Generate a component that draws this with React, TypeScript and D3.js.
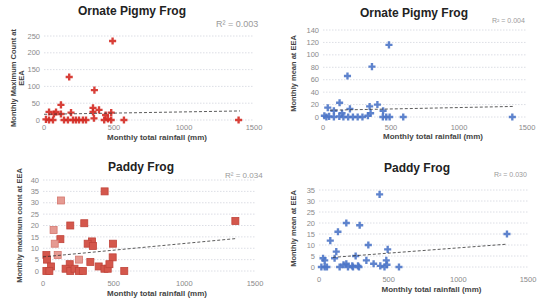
import React from "react";
import * as d3 from "d3";

const xTicks = [0, 500, 1000, 1500];

// Ornate Pigmy Frog – monthly maximum count
const ornateMax: [number, number][] = [
  [490, 235], [180, 128], [360, 89], [121, 45], [350, 36], [393, 30], [36, 24], [86, 24], [193, 22],
  [350, 24], [480, 22], [440, 15], [71, 18], [121, 18], [14, 2], [36, 0], [64, 0], [143, 0], [171, 0],
  [207, 0], [228, 0], [250, 0], [278, 0], [300, 0], [357, 5], [430, 0], [457, 3], [480, 0], [571, 0], [1390, 0],
];
const ornateMaxTicks = [0, 50, 100, 150, 200, 250];
const ornateMaxTrend = [17, 0.0071];

// Ornate Pigmy Frog – monthly mean
const ornateMean: [number, number][] = [
  [485, 116], [360, 81], [180, 66], [122, 23], [400, 20], [343, 17], [35, 15], [198, 13], [80, 10],
  [442, 10], [140, 6], [350, 6], [10, 2], [25, 0], [45, 1], [80, 0], [120, 1], [150, 0], [185, 0],
  [220, 0], [255, 0], [290, 0], [330, 2], [440, 0], [465, 0], [490, 0], [590, 0], [1392, 0],
];
const ornateMeanTicks = [0, 20, 40, 60, 80, 100, 120, 140];
const ornateMeanTrend = [10.7, 0.0045];

// Paddy Frog – monthly maximum count
const paddyMaxDark: [number, number][] = [
  [436, 35], [292, 21], [193, 20], [1361, 22], [123, 14], [347, 13], [316, 12], [353, 11], [495, 12],
  [24, 7], [28, 5], [493, 6], [335, 4], [57, 2], [189, 3], [394, 2], [24, 0], [45, 0], [160, 1],
  [193, 0], [223, 1], [254, 0], [282, 0], [435, 1], [458, 1], [470, 3], [575, 0],
];
const paddyMaxLight: [number, number][] = [[127, 31], [75, 18], [83, 12], [104, 7], [255, 5]];
const paddyMaxTicks = [0, 5, 10, 15, 20, 25, 30, 35, 40];
const paddyMaxTrend = [6.2, 0.0059];

// Paddy Frog – monthly mean
const paddyMean: [number, number][] = [
  [435, 33], [196, 20], [292, 19], [136, 16], [81, 12], [1349, 15], [354, 10], [493, 8], [124, 7],
  [263, 5], [112, 4], [29, 4], [41, 3], [340, 3], [392, 1.5], [483, 3], [488, 1], [176, 1], [196, 1.5],
  [239, 0.5], [280, 0.5], [17, 0], [41, 0], [57, 0], [148, 0], [208, 0], [244, 0], [287, 0], [440, 0.5],
  [470, 0], [574, 0],
];
const paddyMeanTicks = [0, 5, 10, 15, 20, 25, 30, 35];
const paddyMeanTrend = [3.9, 0.0048];

type Panel = {
  title: string;
  r2: string;
  yTitle: string[];
  x0: number; x1: number; y0: number; y1: number;
  yMax: number;
  yTicks: number[];
  series: { data: [number, number][]; kind: "cross" | "square"; fill: string; stroke: string }[];
  trend: number[];
  trendRange: [number, number];
  titleXY: [number, number];
  r2XY: [number, number];
  r2Size: number;
  xLabY: number;
  xTitleY: number;
  yTitleX: number;
};

const RED = "#d42a22";
const BLUE = "#4d75c8";

const panels: Panel[] = [
  {
    title: "Ornate Pigmy Frog", r2: "R² = 0.003", yTitle: ["Monthly Maximum Count at", "EEA"],
    x0: 44, x1: 254, y0: 120, y1: 36, yMax: 250, yTicks: ornateMaxTicks,
    series: [{ data: ornateMax, kind: "cross", fill: RED, stroke: RED }],
    trend: ornateMaxTrend, trendRange: [0, 1400],
    titleXY: [132, 15], r2XY: [216, 27], r2Size: 9, xLabY: 130, xTitleY: 140, yTitleX: 16,
  },
  {
    title: "Ornate Pigmy Frog", r2: "R² = 0.004", yTitle: ["Monthly mean at EEA"],
    x0: 323, x1: 527, y0: 117, y1: 30, yMax: 140, yTicks: ornateMeanTicks,
    series: [{ data: ornateMean, kind: "cross", fill: BLUE, stroke: BLUE }],
    trend: ornateMeanTrend, trendRange: [50, 1400],
    titleXY: [414, 17], r2XY: [492, 23], r2Size: 7, xLabY: 130, xTitleY: 139, yTitleX: 296,
  },
  {
    title: "Paddy Frog", r2: "R² = 0.034", yTitle: ["Monthly maximum count at EEA"],
    x0: 43, x1: 255, y0: 271, y1: 180, yMax: 40, yTicks: paddyMaxTicks,
    series: [
      { data: paddyMaxDark, kind: "square", fill: "#d4574c", stroke: "#c0443a" },
      { data: paddyMaxLight, kind: "square", fill: "#e59a92", stroke: "#d4776e" },
    ],
    trend: paddyMaxTrend, trendRange: [0, 1370],
    titleXY: [141, 171], r2XY: [225, 178], r2Size: 8, xLabY: 286, xTitleY: 296, yTitleX: 22,
  },
  {
    title: "Paddy Frog", r2: "R² = 0.030", yTitle: ["Monthly mean at EEA"],
    x0: 319, x1: 528, y0: 267, y1: 190, yMax: 35, yTicks: paddyMeanTicks,
    series: [{ data: paddyMean, kind: "cross", fill: BLUE, stroke: BLUE }],
    trend: paddyMeanTrend, trendRange: [100, 1340],
    titleXY: [417, 172], r2XY: [494, 177], r2Size: 7, xLabY: 282, xTitleY: 292, yTitleX: 296,
  },
];

const FONT = "'Liberation Sans', Arial, sans-serif";
const cross = d3.symbol().type(d3.symbolCross).size(28)();

function PanelView({ p }: { p: Panel }) {
  const x = d3.scaleLinear().domain([0, 1500]).range([p.x0, p.x1]);
  const y = d3.scaleLinear().domain([0, p.yMax]).range([p.y0, p.y1]);
  const line = d3.line<number>().x((d) => x(d)).y((d) => y(p.trend[0] + p.trend[1] * d));
  const yTitleCy = (p.y0 + p.y1) / 2;
  return (
    <g>
      {p.yTicks.map((t) => (
        <line key={"g" + t} x1={p.x0} x2={p.x1} y1={y(t)} y2={y(t)} stroke="#d3d5de" strokeWidth={0.8} strokeDasharray="1.5,1.5" />
      ))}
      {p.yTicks.map((t) => (
        <text key={"y" + t} x={p.x0 - 4} y={y(t)} dy="0.35em" textAnchor="end" fontSize={7.5} fill="#8a8a8a" fontFamily={FONT}>
          {t}
        </text>
      ))}
      {xTicks.map((t) => (
        <text key={"x" + t} x={x(t)} y={p.xLabY} textAnchor="middle" fontSize={7.5} fill="#8a8a8a" fontFamily={FONT}>
          {t}
        </text>
      ))}
      <text x={p.titleXY[0]} y={p.titleXY[1]} textAnchor="middle" fontSize={12} fontWeight="bold" fill="#222" fontFamily={FONT}>
        {p.title}
      </text>
      <text x={p.r2XY[0]} y={p.r2XY[1]} fontSize={p.r2Size} fill="#9a9a9a" fontFamily={FONT}>
        {p.r2}
      </text>
      <text x={(p.x0 + p.x1) / 2 + 8} y={p.xTitleY} textAnchor="middle" fontSize={8} fontWeight="bold" fill="#444" fontFamily={FONT}>
        Monthly total rainfall (mm)
      </text>
      <text transform={`translate(${p.yTitleX},${yTitleCy}) rotate(-90)`} textAnchor="middle" fontSize={7.5} fontWeight="bold" fill="#444" fontFamily={FONT}>
        {p.yTitle.map((s, i) => (
          <tspan key={i} x={0} dy={i === 0 ? 0 : 8}>{s}</tspan>
        ))}
      </text>
      {p.series.map((s, si) =>
        s.data.map(([a, b], i) =>
          s.kind === "cross" ? (
            <path key={si + "-" + i} d={cross || ""} transform={`translate(${x(a)},${y(b)})`} fill={s.fill} fillOpacity={0.9} />
          ) : (
            <rect key={si + "-" + i} x={x(a) - 3.5} y={y(b) - 3.5} width={7} height={7} fill={s.fill} stroke={s.stroke} strokeWidth={0.8} />
          )
        )
      )}
      <path d={line(p.trendRange) || ""} stroke="#333" strokeWidth={1} strokeDasharray="3,2" fill="none" opacity={0.8} />
    </g>
  );
}

export default function App() {
  return (
    <svg width={540} height={301} style={{ position: "absolute", left: 0, top: 0, background: "#fff" }}>
      <rect width={540} height={301} fill="#fff" />
      {panels.map((p, i) => (
        <PanelView key={i} p={p} />
      ))}
    </svg>
  );
}
